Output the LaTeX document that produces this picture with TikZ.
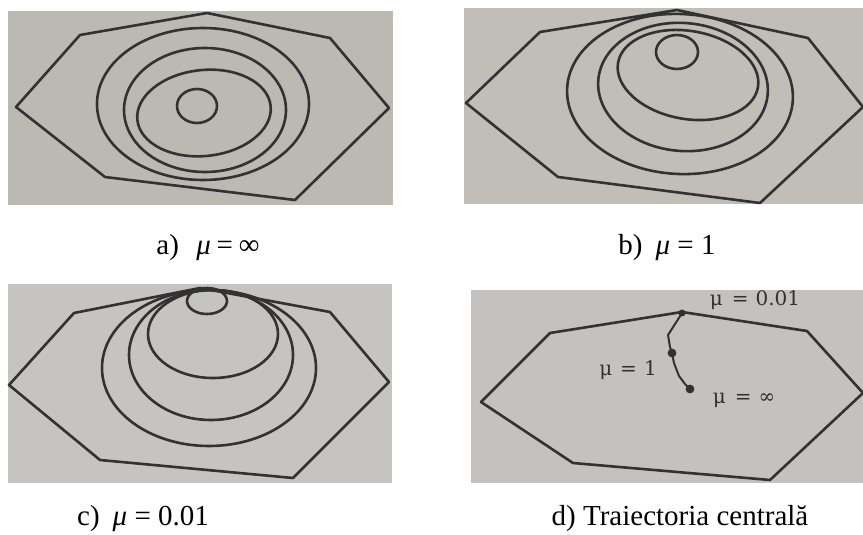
\documentclass[tikz,border=0pt]{standalone}
\usepackage{fontspec}
\setmainfont{Liberation Serif}
\newfontfamily\lblfont{DejaVu Serif}
\definecolor{paperA}{RGB}{188,184,178}
\definecolor{paperB}{RGB}{193,189,183}
\definecolor{paperC}{RGB}{197,196,193}
\definecolor{paperD}{RGB}{195,194,191}
\definecolor{ink}{RGB}{50,50,50}
\tikzset{
  curve/.style={draw=ink, line width=2.6pt, line join=round},
  thin curve/.style={draw=ink, line width=2pt, line join=round, line cap=round},
  capt/.style={font=\fontsize{29}{33}\selectfont, inner sep=0pt, text=black},
  lbl/.style={font=\lblfont\fontsize{20}{23}\selectfont, inner sep=0pt, text=ink},
  dot/.style={fill=ink, draw=none}
}
\begin{document}
\begin{tikzpicture}[x=1pt,y=-1pt]
\useasboundingbox (0,0) rectangle (863,535);
\fill[white] (0,0) rectangle (863,535);
% panel backgrounds
\fill[paperA] (8,11) rectangle (393,205);
\fill[paperB] (464,8) rectangle (863,204);
\fill[paperC] (8,284) rectangle (392,483);
\fill[paperD] (471,290) rectangle (863,483);

% ---- panel a
\draw[curve] (16,107) -- (80,35) -- (207,13) -- (330,38) -- (389,108) -- (295,200) -- (105,177) -- cycle;
\draw[curve] (203,104) ellipse [x radius=106, y radius=76];
\draw[curve] (205,110) ellipse [x radius=81, y radius=62];
\draw[curve, rotate around={6:(204,113)}] (204,113) ellipse [x radius=67, y radius=43];
\draw[curve] (197,106) ellipse [x radius=20, y radius=17];

% ---- panel b
\draw[curve] (466,103) -- (540,32) -- (677,10) -- (808,38) -- (863,107) -- (760,203) -- (558,177) -- cycle;
\draw[curve, rotate around={-3:(680,94)}] (680,94) ellipse [x radius=113, y radius=80];
\draw[curve, rotate around={-5:(683,87)}] (683,87) ellipse [x radius=85, y radius=64];
\draw[curve, rotate around={-10:(688,75)}] (688,75) ellipse [x radius=71, y radius=44];
\draw[curve] (677,52) ellipse [x radius=21, y radius=17];

% ---- panel c
\draw[curve] (9,385) -- (74,313) -- (200,288) -- (330,312) -- (389,382) -- (293,478) -- (100,460) -- cycle;
\draw[curve] (209,368) ellipse [x radius=107, y radius=78];
\draw[curve] (211,355) ellipse [x radius=82, y radius=65];
\draw[curve] (213,334) ellipse [x radius=65, y radius=44];
\draw[curve] (207,301) ellipse [x radius=20, y radius=13];

% ---- panel d
\draw[curve] (481,402) -- (550,333) -- (682,312) -- (807,331) -- (863,393) -- (770,480) -- (573,463) -- cycle;
\coordinate (p0) at (682,313);
\coordinate (p1) at (677,321);
\coordinate (p2) at (668,335);
\coordinate (p3) at (670,347);
\coordinate (p4) at (672,353);
\coordinate (p5) at (674,363);
\coordinate (p6) at (679,376);
\coordinate (p7) at (685,384);
\coordinate (p8) at (690,389);
\draw[thin curve] (p0) -- (p1) -- (p2) -- (p3) -- (p4) -- (p5) -- (p6) -- (p7) -- (p8);
\fill[dot] (p0) circle (3.5);
\fill[dot] (p4) circle (4.4);
\fill[dot] (p8) circle (4.4);
\node[lbl] (l001) at (755,300) {μ\hspace{0.45em}=\hspace{0.35em}0.01};
\node[lbl] (l1) at (628,370) {μ\hspace{0.4em}=\hspace{0.35em}1};
\node[lbl] (linf) at (744,400) {μ\hspace{0.45em}=\hspace{0.35em}∞};

% ---- captions
\node[capt] (ca) at (208,248) {a)\hspace{0.6em}{\itshape μ}\hspace{0.2em}=\hspace{0.2em}∞};
\node[capt] (cb) at (667,248) {b)\hspace{0.45em}{\itshape μ} = 1};
\node[capt] (cc) at (143,519) {c)\hspace{0.45em}{\itshape μ} = 0.01};
\node[capt] (cd) at (680,519) {d) Traiectoria centrală};
\end{tikzpicture}
\end{document}
